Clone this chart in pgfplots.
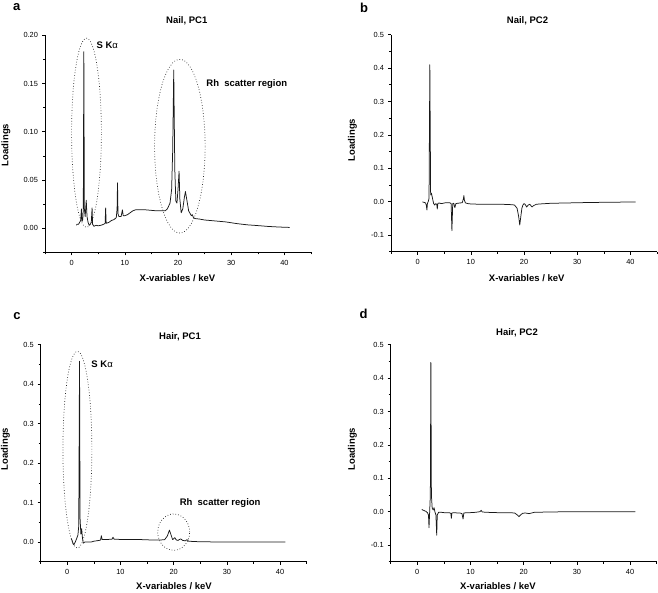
\documentclass[border=0pt]{standalone}
\usepackage{fontspec}
\setmainfont{Liberation Sans}
\usepackage{pgfplots}
\pgfplotsset{compat=1.18}

\pgfplotsset{
  panel/.style={
    scale only axis, width=266pt, height=217pt,
    axis lines*=left, clip=false, anchor=south west,
    xmin=-5, xmax=45, xtick={0,10,...,40}, minor xtick={-5,5,...,45},
    tick align=outside, major tick length=3pt, minor tick length=2pt,
    tick style={black, line width=0.6pt},
    axis line style={black, line width=0.7pt},
    /pgf/number format/assume math mode=true,
    ticklabel style={font=\fontsize{7.4}{8.5}\selectfont},
    yticklabel style={xshift=-0.5pt},
    xticklabel style={yshift=-1pt},
  },
  curve/.style={black!90, line width=0.75pt, line join=round, mark=none},
}
\tikzset{
  ell/.style={dotted, black!85, line width=0.7pt},
  ann/.style={font=\fontsize{9.5}{11}\selectfont\bfseries, anchor=west, inner sep=0pt},
}
\newcommand{\Ka}{\textbf{S K}{\normalfont α}}

\begin{document}
\begin{tikzpicture}
\useasboundingbox (0,0) rectangle (658pt,-592pt);

% ---------- a ----------
\begin{axis}[panel, at={(45pt,-252.3pt)},
  ymin=-0.025, ymax=0.2, ytick={0,0.05,...,0.2}, minor ytick={-0.025,0.025,...,0.2},
  yticklabel style={/pgf/number format/.cd, fixed, fixed zerofill, precision=2}]
\addplot[curve] table {
0.9 0.003
1.0 0.004
1.3 0.004
1.5 0.006
1.7 0.008
1.85 0.020
1.95 0.007
2.1 0.009
2.2 0.02
2.3 0.183
2.4 0.02
2.55 0.012
2.75 0.029
2.9 0.012
3.1 0.006
3.3 0.003
3.5 0.004
3.7 0.006
3.85 0.021
3.95 0.004
4.2 0.002
4.6 0.003
5.0 0.0025
5.5 0.003
6.0 0.004
6.3 0.005
6.4 0.021
6.5 0.005
7.0 0.006
7.5 0.008
8.0 0.009
8.4 0.011
8.55 0.02
8.63 0.047
8.72 0.015
8.9 0.012
9.3 0.012
9.55 0.019
9.7 0.013
10.0 0.013
10.5 0.014
11.0 0.016
11.5 0.018
12.0 0.019
13.0 0.019
14.0 0.019
15.0 0.0185
16.0 0.018
17.0 0.018
17.6 0.018
18.0 0.02
18.5 0.026
18.8 0.04
19.0 0.08
19.2 0.164
19.4 0.06
19.6 0.028
19.8 0.026
20.0 0.04
20.2 0.059
20.35 0.03
20.6 0.016
20.9 0.02
21.2 0.032
21.4 0.038
21.7 0.028
22.0 0.018
22.2 0.016
22.5 0.013
22.7 0.014
22.9 0.011
23.2 0.010
24 0.0095
25 0.0085
27 0.0075
29 0.0065
31 0.0048
33 0.0035
35 0.0027
37 0.0018
39 0.0012
41 0.0008
};
\draw[ell] (axis cs:2.8,0.099) ellipse [x radius=2.8, y radius=0.098];
\draw[ell] (axis cs:20.35,0.085) ellipse [x radius=4.75, y radius=0.09];
\node[ann] at (axis cs:4.65,0.19) {\Ka};
\node[ann] at (axis cs:25.3,0.149) {Rh\ \ scatter region};
\end{axis}

% ---------- b ----------
\begin{axis}[panel, at={(391pt,-251.7pt)},
  ymin=-0.15, ymax=0.5, ytick={-0.1,0,...,0.5}, minor ytick={-0.15,-0.05,...,0.5},
  yticklabel style={/pgf/number format/.cd, fixed, fixed zerofill, precision=1}]
\addplot[curve] table {
0.9 -0.001
1.2 -0.002
1.5 -0.004
1.65 -0.012
1.75 -0.025
1.85 -0.005
2.0 0.0
2.15 0.01
2.3 0.41
2.45 0.02
2.6 0.025
2.8 0.01
3.0 -0.005
3.2 -0.01
3.4 -0.006
3.6 -0.008
3.7 -0.022
3.8 -0.006
4.0 -0.004
4.5 -0.006
5.0 -0.004
5.5 -0.003
6.0 -0.003
6.3 -0.006
6.45 -0.087
6.6 -0.006
6.8 -0.005
7.0 -0.018
7.2 -0.006
7.5 -0.005
8.0 -0.004
8.4 -0.003
8.6 0.008
8.7 0.018
8.8 0.004
9.0 -0.004
9.5 -0.006
10 -0.007
12 -0.008
14 -0.008
16 -0.008
17.5 -0.009
18.2 -0.01
18.7 -0.02
19.0 -0.045
19.2 -0.07
19.4 -0.045
19.6 -0.02
19.8 -0.01
20.0 -0.006
20.2 -0.008
20.5 -0.016
20.8 -0.01
21.1 -0.008
21.5 -0.016
21.8 -0.012
22.3 -0.008
23 -0.007
25 -0.005
28 -0.004
31 -0.003
35 -0.002
38 -0.0015
41 -0.001
};
\end{axis}

% ---------- c ----------
\begin{axis}[panel, at={(40.7pt,-561.7pt)},
  ymin=-0.05, ymax=0.5, ytick={0,0.1,...,0.5}, minor ytick={-0.05,0.05,...,0.5},
  yticklabel style={/pgf/number format/.cd, fixed, fixed zerofill, precision=1}]
\addplot[curve] table {
0.75 0.008
0.9 0.004
1.1 -0.005
1.25 -0.007
1.5 0.0
1.8 0.01
2.0 0.018
2.15 0.04
2.3 0.458
2.4 0.06
2.55 0.02
2.7 0.034
2.85 0.01
3.0 -0.003
3.3 0.0
3.7 0.0
4.5 0.0
5.0 0.002
5.5 0.003
6.0 0.004
6.25 0.005
6.4 0.016
6.55 0.006
7.0 0.006
7.5 0.006
8.0 0.007
8.4 0.007
8.6 0.012
8.8 0.007
9.5 0.007
10 0.006
12 0.006
14 0.006
16 0.005
17.5 0.005
18.3 0.006
18.8 0.015
19.2 0.03
19.5 0.018
19.8 0.006
20.2 0.011
20.5 0.005
20.8 0.004
21.3 0.008
21.7 0.004
22.2 0.003
22.5 0.006
22.8 0.002
24 0.001
28 0.0
41 0.0
};
\draw[ell] (axis cs:1.9,0.234) ellipse [x radius=2.72, y radius=0.249];
\draw[ell] (axis cs:20.0,0.025) ellipse [x radius=3.0, y radius=0.046];
\node[ann] at (axis cs:4.5,0.45) {\Ka};
\node[ann] at (axis cs:21.1,0.099) {Rh\ \ scatter region};
\end{axis}

% ---------- d ----------
\begin{axis}[panel, at={(390.7pt,-561.7pt)},
  ymin=-0.15, ymax=0.5, ytick={-0.1,0,...,0.5}, minor ytick={-0.15,-0.05,...,0.5},
  yticklabel style={/pgf/number format/.cd, fixed, fixed zerofill, precision=1}]
\addplot[curve] table {
0.85 0.007
1.0 0.005
1.3 0.003
1.6 0.001
1.9 -0.003
2.1 -0.01
2.2 -0.048
2.3 -0.01
2.45 0.05
2.55 0.447
2.65 0.05
2.8 0.01
3.0 0.005
3.15 0.012
3.3 0.0
3.5 -0.01
3.65 -0.071
3.75 -0.01
4.0 -0.002
4.5 -0.002
5.0 -0.003
5.5 -0.003
6.0 -0.003
6.3 -0.005
6.4 -0.02
6.5 -0.004
7.0 -0.003
7.5 -0.004
8.0 -0.004
8.4 -0.006
8.6 -0.022
8.75 -0.004
9.5 -0.003
10 -0.003
11 -0.002
11.8 0.0
12.0 0.004
12.2 -0.001
13 -0.002
15 -0.003
17 -0.003
18.3 -0.004
18.8 -0.01
19.1 -0.015
19.4 -0.01
19.8 -0.005
20.3 -0.004
21 -0.006
21.5 -0.004
22 -0.002
25 -0.001
30 0.0
41 0.0
};
\end{axis}

% ---------- texts ----------
\begin{scope}[every node/.style={font=\fontsize{9.5}{11}\selectfont\bfseries, inner sep=0pt}]
\node at (186.8pt,-21pt) {Nail, PC1};
\node at (527.5pt,-21pt) {Nail, PC2};
\node at (180pt,-336.7pt) {Hair, PC1};
\node at (517pt,-332.7pt) {Hair, PC2};
\node at (177.5pt,-278.3pt) {X-variables / keV};
\node at (526.7pt,-277.7pt) {X-variables / keV};
\node at (174pt,-586pt) {X-variables / keV};
\node at (498pt,-586pt) {X-variables / keV};
\node[rotate=90] at (6pt,-145pt) {Loadings};
\node[rotate=90] at (352.5pt,-140pt) {Loadings};
\node[rotate=90] at (5.5pt,-449pt) {Loadings};
\node[rotate=90] at (352.5pt,-449pt) {Loadings};
\end{scope}
\begin{scope}[every node/.style={font=\fontsize{13}{15}\selectfont\bfseries, inner sep=0pt}]
\node at (16.7pt,-7.5pt) {a};
\node at (364.2pt,-8pt) {b};
\node at (17pt,-316.5pt) {c};
\node at (363.7pt,-314.3pt) {d};
\end{scope}
\end{tikzpicture}
\end{document}
